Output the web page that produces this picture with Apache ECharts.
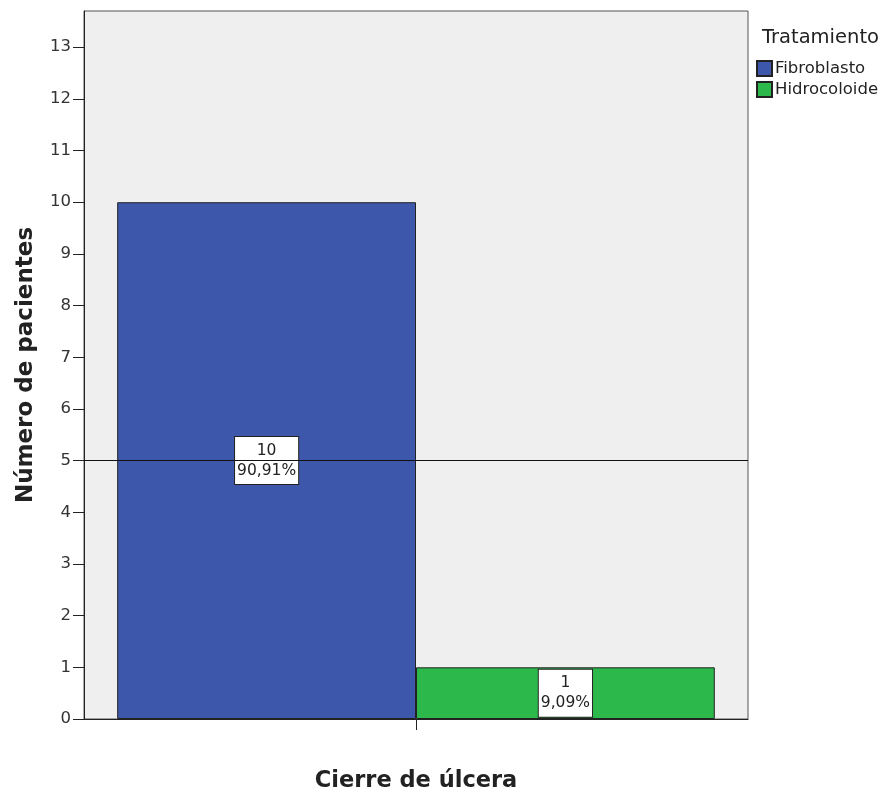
<!DOCTYPE html>
<html>
<head>
<meta charset="utf-8">
<script src="https://cdn.jsdelivr.net/npm/echarts@6/dist/echarts.min.js"></script>
<style>
  html, body { margin: 0; padding: 0; background: #ffffff; overflow: hidden; }
  #chart { width: 885px; height: 794px; }
</style>
</head>
<body>
<div id="chart"></div>
<script>
// Patient counts by treatment for ulcer closure
const categories = ['Cierre de úlcera'];
const seriesNames = ['Fibroblasto', 'Hidrocoloide'];
const fibroblasto = [10];
const hidrocoloide = [1];
const yTicks = [0, 1, 2, 3, 4, 5, 6, 7, 8, 9, 10, 11, 12, 13];
const referenceValue = 5;

const colors = ['#3d57ab', '#2db84b'];
const FONT = 'DejaVu Sans';
const total = fibroblasto[0] + hidrocoloide[0];

function labelFormatter(p) {
  const pct = (p.value / total * 100).toFixed(2).replace('.', ',');
  return p.value + '\n' + pct + '%';
}

function barSeries(name, data, color, withLine) {
  const s = {
    name: name,
    type: 'bar',
    data: data,
    barGap: '0%',
    barCategoryGap: '10%',
    itemStyle: { color: color, borderColor: '#222', borderWidth: 1 },
    label: {
      show: true,
      position: 'inside',
      formatter: labelFormatter,
      fontFamily: FONT,
      fontSize: 15.5,
      lineHeight: 20,
      color: '#222',
      backgroundColor: '#ffffff',
      borderColor: '#222',
      borderWidth: 1,
      padding: [4, 2, 3, 2]
    }
  };
  if (withLine) {
    s.markLine = {
      silent: true,
      symbol: 'none',
      label: { show: false },
      lineStyle: { color: '#111', width: 1, type: 'solid' },
      data: [{ yAxis: referenceValue }]
    };
  }
  return s;
}

const chart = echarts.init(document.getElementById('chart'), null, { renderer: 'canvas' });
chart.setOption({
  animation: false,
  textStyle: { fontFamily: FONT },
  title: {
    text: 'Tratamiento',
    left: 757,
    top: 23,
    textStyle: { fontFamily: FONT, fontSize: 19.5, fontWeight: 'normal', color: '#222' }
  },
  legend: {
    orient: 'vertical',
    left: 751,
    top: 55,
    itemWidth: 15,
    itemHeight: 15,
    itemGap: 4,
    icon: 'rect',
    textStyle: { fontFamily: FONT, fontSize: 16.5, color: '#222', padding: [0, 0, 0, -2] },
    data: seriesNames
  },
  grid: {
    left: 84,
    top: 11,
    width: 664,
    height: 708,
    outerBoundsMode: 'none',
    show: true,
    backgroundColor: '#efefef',
    borderColor: '#555',
    borderWidth: 1
  },
  xAxis: {
    type: 'category',
    data: categories,
    name: categories[0],
    nameLocation: 'middle',
    nameGap: 51,
    nameTextStyle: { fontFamily: FONT, fontSize: 22.5, fontWeight: 'bold', color: '#222' },
    axisLine: { lineStyle: { color: '#222' } },
    axisTick: { show: true, alignWithLabel: true, length: 11, lineStyle: { color: '#222' } },
    axisLabel: { show: false }
  },
  yAxis: {
    type: 'value',
    min: 0,
    max: 13.7,
    interval: 1,
    name: 'Número de pacientes',
    nameLocation: 'middle',
    nameGap: 46,
    nameTextStyle: { fontFamily: FONT, fontSize: 23, fontWeight: 'bold', color: '#222' },
    axisLine: { show: true, lineStyle: { color: '#222' } },
    axisTick: { show: true, length: 11, lineStyle: { color: '#222' } },
    splitLine: { show: false },
    axisLabel: {
      fontFamily: FONT,
      fontSize: 16.5,
      color: '#333',
      margin: 13,
      formatter: function (v) { return yTicks.indexOf(v) >= 0 ? String(v) : ''; },
      showMaxLabel: false
    }
  },
  series: [
    barSeries(seriesNames[0], fibroblasto, colors[0], true),
    barSeries(seriesNames[1], hidrocoloide, colors[1], false)
  ]
});
</script>
</body>
</html>
